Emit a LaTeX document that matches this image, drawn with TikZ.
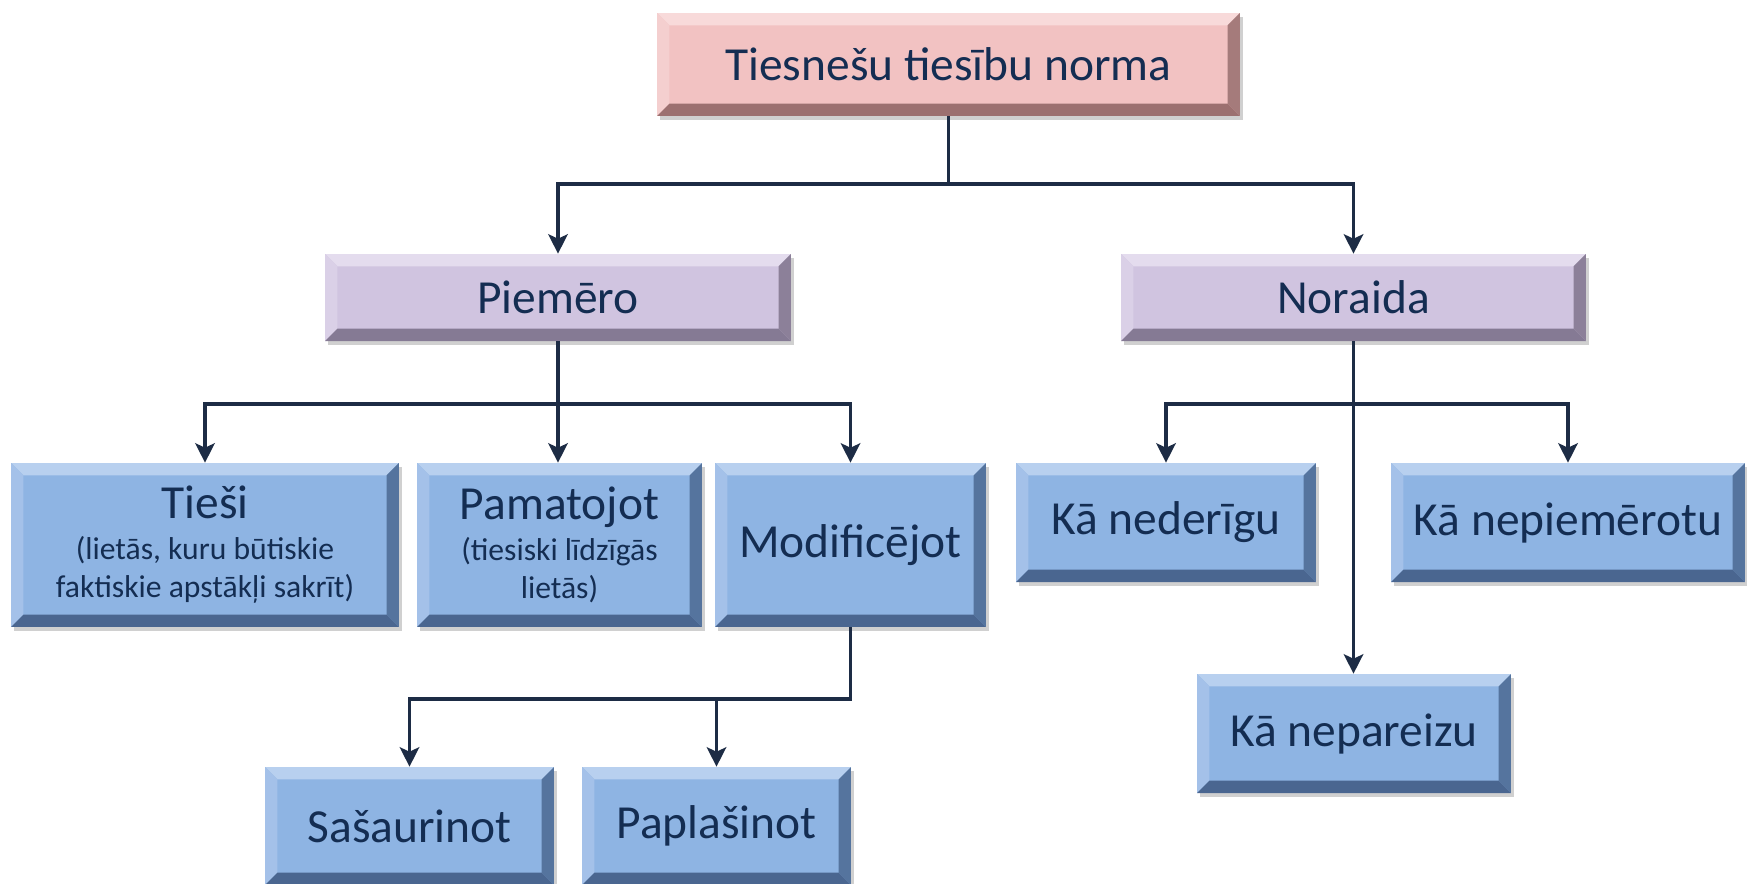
\documentclass[tikz,border=0pt]{standalone}
\usepackage{fontspec}
\setmainfont{Carlito}
\usetikzlibrary{arrows.meta,shadows}
\definecolor{txt}{HTML}{142D52}
\definecolor{ln}{HTML}{1D2C45}
\definecolor{bF}{HTML}{8EB4E3}\definecolor{bT}{HTML}{B8D0EF}\definecolor{bL}{HTML}{A4C1E9}\definecolor{bR}{HTML}{55749E}\definecolor{bB}{HTML}{4A6690}
\definecolor{pF}{HTML}{F2C2C2}\definecolor{pT}{HTML}{F8DADA}\definecolor{pL}{HTML}{F4CFCF}\definecolor{pR}{HTML}{A57B7B}\definecolor{pB}{HTML}{9C7070}
\definecolor{vF}{HTML}{D0C4E0}\definecolor{vT}{HTML}{E4DCEE}\definecolor{vL}{HTML}{DAD0E7}\definecolor{vR}{HTML}{8C8099}\definecolor{vB}{HTML}{857A94}
\newlength\bw \setlength\bw{7pt}
\tikzset{
  bev/.style n args={5}{
    fill=#1, inner sep=0pt, align=center, text=txt,
    font=\fontsize{27}{32}\selectfont,
    drop shadow={shadow xshift=1.5pt,shadow yshift=-2pt,opacity=0.3,fill=black!60},
    path picture={
      \fill[#2] (path picture bounding box.north west) -- (path picture bounding box.north east)
        -- ([shift={(-\bw,-\bw)}]path picture bounding box.north east)
        -- ([shift={(\bw,-\bw)}]path picture bounding box.north west) -- cycle;
      \fill[#3] (path picture bounding box.north west) -- (path picture bounding box.south west)
        -- ([shift={(\bw,\bw)}]path picture bounding box.south west)
        -- ([shift={(\bw,-\bw)}]path picture bounding box.north west) -- cycle;
      \fill[#4] (path picture bounding box.north east) -- (path picture bounding box.south east)
        -- ([shift={(-\bw,\bw)}]path picture bounding box.south east)
        -- ([shift={(-\bw,-\bw)}]path picture bounding box.north east) -- cycle;
      \fill[#5] (path picture bounding box.south west) -- (path picture bounding box.south east)
        -- ([shift={(-\bw,\bw)}]path picture bounding box.south east)
        -- ([shift={(\bw,\bw)}]path picture bounding box.south west) -- cycle;
    }},
  bluebox/.style={bev={bF}{bT}{bL}{bR}{bB}},
  pinkbox/.style={bev={pF}{pT}{pL}{pR}{pB}},
  violetbox/.style={bev={vF}{vT}{vL}{vR}{vB}},
  arr/.style={draw=ln, line width=2.2pt, -{Stealth[length=11pt,width=11pt,inset=2.5pt]}}
}
\newcommand\sm[1]{{\fontsize{18}{22}\selectfont #1}}
\begin{document}
\begin{tikzpicture}[x=0.02cm,y=-0.02cm]
\fill[white] (0,0) rectangle (1747,883);
\useasboundingbox (0,0) rectangle (1747,883);
\node[pinkbox, minimum width=11.66cm, minimum height=2.06cm] (top) at (948.5,64.5) {Tiesnešu tiesību norma};
\node[violetbox, minimum width=9.32cm, minimum height=1.74cm] (piem) at (558,297.5) {Piemēro};
\node[violetbox, minimum width=9.30cm, minimum height=1.74cm] (nor) at (1353.5,297.5) {Noraida};
\node[bluebox, minimum width=7.76cm, minimum height=3.28cm] (tiesi) at (205,545) {Tieši\\[-9pt]\sm{(lietās, kuru būtiskie}\\[-10pt]\sm{faktiskie apstākļi sakrīt)}};
\node[bluebox, minimum width=5.70cm, minimum height=3.28cm] (pam) at (559.5,545) {Pamatojot\\[-9pt]\sm{(tiesiski līdzīgās}\\[-10pt]\sm{lietās)}};
\node[bluebox, minimum width=5.42cm, minimum height=3.28cm] (mod) at (850.5,545) {Modificējot};
\node[bluebox, minimum width=5.78cm, minimum height=2.36cm] (sas) at (409.5,826) {Sašaurinot};
\node[bluebox, minimum width=5.38cm, minimum height=2.36cm] (pap) at (716.5,826) {Paplašinot};
\node[bluebox, minimum width=6.00cm, minimum height=2.38cm] (ned) at (1166,522.5) {Kā nederīgu};
\node[bluebox, minimum width=7.08cm, minimum height=2.38cm] (nepiem) at (1568,522.5) {Kā nepiemērotu};
\node[bluebox, minimum width=6.28cm, minimum height=2.38cm] (nepar) at (1354,733.5) {Kā nepareizu};
\coordinate (j1) at (950,184);
\coordinate (j2) at (560,404);
\coordinate (j3) at (853,699);
\coordinate (j4) at (1357,404);
\draw[arr] (top.south) |- (piem.north |- j1) -- (piem.north);
\draw[arr] (top.south) |- (nor.north |- j1) -- (nor.north);
\draw[arr] (piem.south) |- (tiesi.north |- j2) -- (tiesi.north);
\draw[arr] (piem.south) -- (piem.south |- pam.north);
\draw[arr] (piem.south) |- (mod.north |- j2) -- (mod.north);
\draw[arr] (mod.south) |- (sas.north |- j3) -- (sas.north);
\draw[arr] (mod.south) |- (pap.north |- j3) -- (pap.north);
\draw[arr] (nor.south) |- (ned.north |- j4) -- (ned.north);
\draw[arr] (nor.south) |- (nepiem.north |- j4) -- (nepiem.north);
\draw[arr] (nor.south) -- (nor.south |- nepar.north);
\end{tikzpicture}
\end{document}
